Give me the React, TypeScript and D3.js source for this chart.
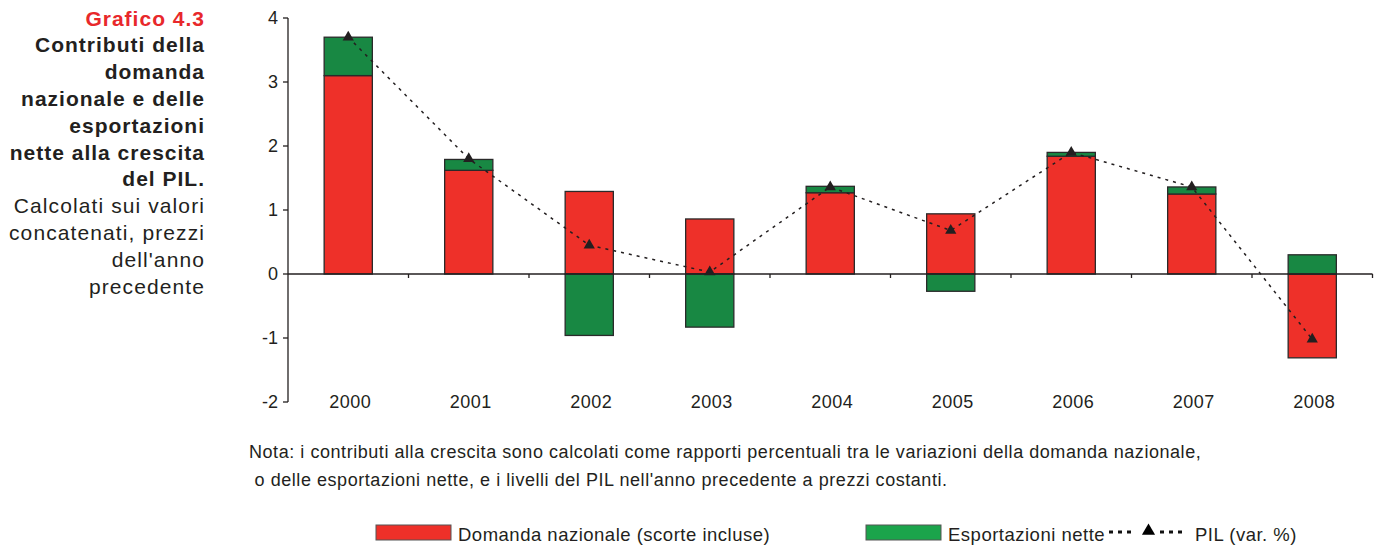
import React from 'react';
import * as d3 from 'd3';

const years = ['2000', '2001', '2002', '2003', '2004', '2005', '2006', '2007', '2008'];
const domanda = [3.10, 1.62, 1.29, 0.86, 1.27, 0.94, 1.84, 1.25, -1.31];
const esportazioni = [0.60, 0.17, -0.96, -0.83, 0.10, -0.27, 0.06, 0.11, 0.30];
const pil = [3.70, 1.80, 0.45, 0.03, 1.36, 0.68, 1.90, 1.36, -1.02];
const yTicks = [-2, -1, 0, 1, 2, 3, 4];

const titleRed = 'Grafico 4.3';
const titleBold = ['Contributi della', 'domanda', 'nazionale e delle', 'esportazioni', 'nette alla crescita', 'del PIL.'];
const titleReg = ['Calcolati sui valori', 'concatenati, prezzi', "dell'anno", 'precedente'];
const notes = [
  'Nota: i contributi alla crescita sono calcolati come rapporti percentuali tra le variazioni della domanda nazionale,',
  ' o delle esportazioni nette, e i livelli del PIL nell\'anno precedente a prezzi costanti.',
];
const legendLabels = ['Domanda nazionale (scorte incluse)', 'Esportazioni nette', 'PIL (var. %)'];

const RED = '#EE3029';
const GREEN = '#188843';
const LEG_GREEN = '#1BA44B';
const FONT = '"Liberation Sans", Arial, Helvetica, sans-serif';

export default function App() {
  const x = d3.scaleBand<string>().domain(years).range([288, 1372.5]).padding(0);
  const y = d3.scaleLinear().domain([-2, 4]).range([402, 18]);
  const bw = x.bandwidth() * 0.4;

  const rows = years.map((yr, i) => ({ year: yr, dom: domanda[i], exp: esportazioni[i] }));
  const stack = d3.stack<any>().keys(['dom', 'exp']).offset(d3.stackOffsetDiverging);
  const series = stack(rows);
  const colors = [RED, GREEN];

  const cx = (yr: string) => (x(yr) as number) + x.bandwidth() / 2;
  const line = d3
    .line<number>()
    .x((_, i) => cx(years[i]))
    .y((d) => y(d));

  const tri = d3.symbol().type(d3.symbolTriangle).size(55)();

  const lineH = 26.8;
  const titleStyle = { letterSpacing: '1px' };
  return (
    <svg width={1379} height={545} style={{ position: 'absolute', left: 0, top: 0 }} fontFamily={FONT}>
      <rect width={1379} height={545} fill="#fff" />
      {/* Title block */}
      <text x={205} y={25.5} textAnchor="end" fontSize={21} fontWeight="bold" fill="#E8282B" style={titleStyle}>{titleRed}</text>
      {titleBold.map((t, i) => (
        <text key={'b' + i} x={205} y={25.5 + lineH * (i + 1)} textAnchor="end" fontSize={21} fontWeight="bold" fill="#231F20" style={titleStyle}>{t}</text>
      ))}
      {titleReg.map((t, i) => (
        <text key={'r' + i} x={205} y={25.5 + lineH * (i + 7)} textAnchor="end" fontSize={21} fill="#231F20" style={{ letterSpacing: '1.1px' }}>{t}</text>
      ))}

      {/* bars */}
      {series.map((s, si) =>
        s.map((d, i) => {
          const y0 = y(d[0]);
          const y1 = y(d[1]);
          return (
            <rect
              key={si + '-' + i}
              x={cx(years[i]) - bw / 2}
              y={Math.min(y0, y1)}
              width={bw}
              height={Math.abs(y1 - y0)}
              fill={colors[si]}
              stroke="#2a2a2a"
              strokeWidth={1.3}
            />
          );
        })
      )}

      {/* y axis */}
      <line x1={288} x2={288} y1={y(4)} y2={y(-2)} stroke="#231F20" strokeWidth={1.3} />
      {yTicks.map((t) => (
        <g key={t}>
          <line x1={283} x2={288} y1={y(t)} y2={y(t)} stroke="#231F20" strokeWidth={1.3} />
          <text x={278} y={y(t) + 6} textAnchor="end" fontSize={18} fill="#231F20">{t}</text>
        </g>
      ))}
      {/* x axis at zero */}
      <line x1={288} x2={1372.5} y1={y(0)} y2={y(0)} stroke="#231F20" strokeWidth={1.3} />
      {years.map((yr) => (
        <line key={'t' + yr} x1={(x(yr) as number) + x.bandwidth()} x2={(x(yr) as number) + x.bandwidth()} y1={y(0)} y2={y(0) + 4} stroke="#231F20" strokeWidth={1.3} />
      ))}
      {years.map((yr) => (
        <text key={'l' + yr} x={cx(yr) + 2} y={408} textAnchor="middle" fontSize={18} fill="#231F20" style={{ letterSpacing: '0.45px' }}>{yr}</text>
      ))}

      {/* PIL line */}
      <path d={line(pil) || ''} fill="none" stroke="#231F20" strokeWidth={1.5} strokeDasharray="3,5" />
      {pil.map((v, i) => (
        <path key={'m' + i} d={tri || ''} transform={`translate(${cx(years[i])},${y(v)})`} fill="#231F20" />
      ))}

      {/* notes */}
      <text x={249} y={458} fontSize={18} fill="#231F20" style={{ letterSpacing: '0.55px' }}>{notes[0]}</text>
      <text x={249} y={486} fontSize={18} fill="#231F20" style={{ whiteSpace: 'pre', letterSpacing: '0.55px' }}>{notes[1]}</text>

      {/* legend */}
      <rect x={376} y={525} width={75} height={15} fill={RED} stroke="#555" strokeWidth={1} />
      <text x={458} y={541} fontSize={18.5} fill="#231F20" style={{ letterSpacing: '0.5px' }}>{legendLabels[0]}</text>
      <rect x={866} y={525} width={75} height={15} fill={LEG_GREEN} stroke="#555" strokeWidth={1} />
      <text x={948} y={541} fontSize={18.5} fill="#231F20" style={{ letterSpacing: '0.5px' }}>{legendLabels[1]}</text>
      <line x1={1109} x2={1133} y1={532} y2={532} stroke="#111" strokeWidth={3} strokeDasharray="4,5" />
      <line x1={1160} x2={1184} y1={532} y2={532} stroke="#111" strokeWidth={3} strokeDasharray="4,5" />
      <path d={d3.symbol().type(d3.symbolTriangle).size(75)() || ''} transform="translate(1148.5,531)" fill="#000" />
      <text x={1195} y={541} fontSize={18.5} fill="#231F20" style={{ letterSpacing: '0.5px' }}>{legendLabels[2]}</text>
    </svg>
  );
}
